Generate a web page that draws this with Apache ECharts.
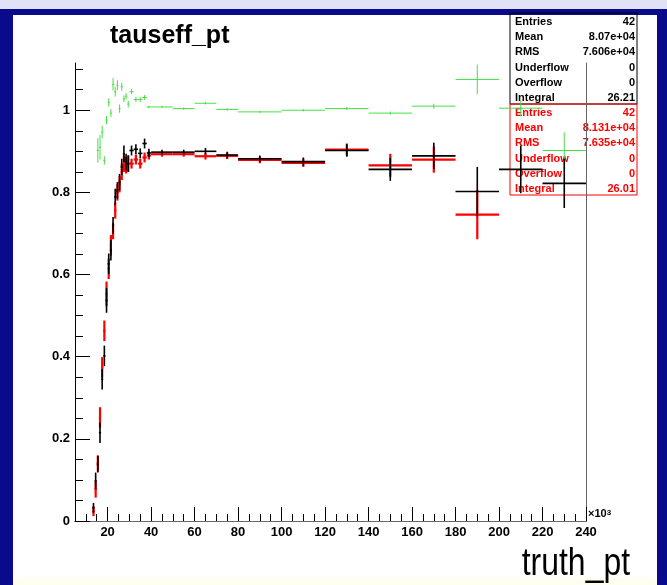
<!DOCTYPE html>
<html>
<head>
<meta charset="utf-8">
<script src="https://cdn.jsdelivr.net/npm/echarts@6/dist/echarts.min.js"></script>
<style>
html, body { margin: 0; padding: 0; background: #fff; }
#main { width: 667px; height: 585px; }
</style>
</head>
<body>
<div id="main"></div>
<script>
// bin edges (x in units of 10^3)
var binLow  = [13, 14, 15, 16, 17, 18, 19, 20, 21, 22, 23, 24, 25, 26, 27, 28, 29, 30, 32, 34, 36, 38, 40, 50, 60, 70, 80, 100, 120, 140, 160, 180, 200, 220];
var binHigh = [14, 15, 16, 17, 18, 19, 20, 21, 22, 23, 24, 25, 26, 27, 28, 29, 30, 32, 34, 36, 38, 40, 50, 60, 70, 80, 100, 120, 140, 160, 180, 200, 220, 240];

var blackVal = [0.032, 0.098, 0.138, 0.215, 0.345, 0.402, 0.537, 0.626, 0.659, 0.720, 0.789, 0.805, 0.825, 0.862, 0.894, 0.874, 0.870, 0.902, 0.905, 0.895, 0.919, 0.896, 0.898, 0.898, 0.900, 0.891, 0.882, 0.875, 0.902, 0.856, 0.889, 0.802, 0.856, 0.822];
var blackErr = [0.012, 0.020, 0.020, 0.025, 0.025, 0.025, 0.030, 0.025, 0.025, 0.020, 0.020, 0.020, 0.020, 0.020, 0.020, 0.020, 0.020, 0.012, 0.012, 0.012, 0.012, 0.010, 0.006, 0.006, 0.008, 0.008, 0.008, 0.010, 0.015, 0.028, 0.032, 0.060, 0.058, 0.060];

var redVal = [0.024, 0.077, 0.140, 0.252, 0.374, 0.463, 0.553, 0.614, 0.671, 0.706, 0.756, 0.800, 0.820, 0.850, 0.870, 0.866, 0.870, 0.870, 0.880, 0.870, 0.885, 0.890, 0.893, 0.893, 0.888, 0.889, 0.879, 0.872, 0.904, 0.866, 0.880, 0.746, null, null];
var redErr = [0.012, 0.020, 0.020, 0.025, 0.025, 0.025, 0.030, 0.025, 0.025, 0.020, 0.020, 0.020, 0.020, 0.020, 0.020, 0.020, 0.020, 0.012, 0.012, 0.012, 0.012, 0.010, 0.006, 0.006, 0.008, 0.008, 0.008, 0.010, 0.015, 0.028, 0.032, 0.060, null, null];

var greenVal = [null, null, 0.902, 0.910, 0.947, 0.878, 0.976, 1.019, 0.993, 1.063, 1.045, 1.061, 1.004, 1.057, 1.028, 1.034, 1.015, 1.045, 1.026, 1.026, 1.031, 1.008, 1.008, 1.004, 1.017, 1.002, 0.996, 1.000, 1.004, 0.993, 1.010, 1.075, 1.005, 0.902];
var greenErr = [null, null, 0.030, 0.030, 0.015, 0.010, 0.010, 0.010, 0.010, 0.015, 0.012, 0.012, 0.010, 0.010, 0.008, 0.008, 0.008, 0.006, 0.006, 0.006, 0.006, 0.003, 0.003, 0.003, 0.003, 0.003, 0.003, 0.003, 0.004, 0.004, 0.006, 0.036, 0.020, 0.044];

var xMajorTicks = [20, 40, 60, 80, 100, 120, 140, 160, 180, 200, 220, 240];
var xMinorTicks = [10, 15, 25, 30, 35, 45, 50, 55, 65, 70, 75, 85, 90, 95, 105, 110, 115, 125, 130, 135, 145, 150, 155, 165, 170, 175, 185, 190, 195, 205, 210, 215, 225, 230, 235];
var yMajorTicks = [0, 0.2, 0.4, 0.6, 0.8, 1];
var yMinorTicks = [0.05, 0.1, 0.15, 0.25, 0.3, 0.35, 0.45, 0.5, 0.55, 0.65, 0.7, 0.75, 0.85, 0.9, 0.95, 1.05, 1.1];

var statLabels = ["Entries", "Mean", "RMS", "Underflow", "Overflow", "Integral"];
var blackStats = ["42", "8.07e+04", "7.606e+04", "0", "0", "26.21"];
var redStats   = ["42", "8.131e+04", "7.635e+04", "0", "0", "26.01"];

var chart = echarts.init(document.getElementById("main"));

function buildData(vals, errs) {
  var out = [];
  for (var i = 0; i < vals.length; i++) {
    if (vals[i] == null) continue;
    out.push([binLow[i], binHigh[i], vals[i], errs[i]]);
  }
  return out;
}

function errorBars(color, width) {
  return function (params, api) {
    var lo = api.value(0), hi = api.value(1), v = api.value(2), e = api.value(3);
    var cx = (lo + hi) / 2;
    var p1 = api.coord([lo, v]);
    var p2 = api.coord([hi, v]);
    var t = api.coord([cx, v + e]);
    var b = api.coord([cx, v - e]);
    return {
      type: "group",
      children: [
        { type: "line", shape: { x1: p1[0], y1: p1[1], x2: p2[0], y2: p2[1] }, style: { stroke: color, lineWidth: width } },
        { type: "line", shape: { x1: t[0], y1: t[1], x2: b[0], y2: b[1] }, style: { stroke: color, lineWidth: width } }
      ]
    };
  };
}

function statBox(top, color, values) {
  var els = [{
    type: "rect", shape: { x: 510, y: top, width: 127, height: 91 },
    style: { fill: "rgba(255,255,255,0)", stroke: color, lineWidth: 1 }
  }];
  for (var i = 0; i < statLabels.length; i++) {
    var y = top + 9 + i * 15.2;
    els.push({ type: "text", x: 515, y: y, style: { text: statLabels[i], fill: color, font: "bold 11px 'Liberation Sans', Arial", textVerticalAlign: "middle" } });
    els.push({ type: "text", x: 635, y: y, style: { text: values[i], fill: color, font: "bold 11px 'Liberation Sans', Arial", textAlign: "right", textVerticalAlign: "middle" } });
  }
  return els;
}

var frame = [
  { type: "rect", shape: { x: 0, y: 0, width: 667, height: 11 }, style: { fill: "#e2e2f6" } },
  { type: "rect", shape: { x: 0, y: 9, width: 667, height: 6 }, style: { fill: "#0a0a8c" } },
  { type: "rect", shape: { x: 0, y: 9, width: 13, height: 576 }, style: { fill: "#0a0a8c" } },
  { type: "rect", shape: { x: 657, y: 9, width: 10, height: 576 }, style: { fill: "#0a0a8c" } },
  { type: "rect", shape: { x: 13, y: 578, width: 644, height: 7 }, style: { fill: "#fffff0" } },
  { type: "text", x: 110, y: 36, style: { text: "tauseff_pt", fill: "#000", font: "bold 25px 'Liberation Sans', Arial", textVerticalAlign: "middle" } },
  { type: "text", x: 630, y: 565, scaleX: 0.84, style: { text: "truth_pt", fill: "#000", font: "38px 'Liberation Sans', Arial", textAlign: "right", textVerticalAlign: "middle" } },
  { type: "text", x: 588, y: 514, style: { text: "×10{s|3}", rich: { s: { fontSize: 8, verticalAlign: "top", fontWeight: "bold" } }, fill: "#000", font: "bold 11px 'Liberation Sans', Arial", textVerticalAlign: "middle" } }
].concat(statBox(13, "#000", blackStats), statBox(104, "#ff0000", redStats));

var option = {
  animation: false,
  backgroundColor: "#fff",
  grid: { left: 75, right: 81, top: 63, bottom: 64 },
  xAxis: [
    {
      type: "value", min: 5, max: 240, position: "bottom",
      axisLine: { show: true, lineStyle: { color: "#000", width: 1 } },
      axisTick: { show: true, inside: true, length: 14, customValues: xMajorTicks, lineStyle: { color: "#000" } },
      axisLabel: { customValues: xMajorTicks, color: "#000", fontSize: 13, fontWeight: "bold", margin: 5, fontFamily: "'Liberation Sans', Arial" },
      splitLine: { show: false }
    },
    {
      type: "value", min: 5, max: 240, position: "bottom",
      axisLine: { show: false },
      axisTick: { show: true, inside: true, length: 7, customValues: xMinorTicks, lineStyle: { color: "#000" } },
      axisLabel: { show: false },
      splitLine: { show: false }
    },
    {
      type: "value", min: 5, max: 240, position: "top",
      axisLine: { show: true, lineStyle: { color: "#666", width: 1 } },
      axisTick: { show: false }, axisLabel: { show: false }, splitLine: { show: false }
    }
  ],
  yAxis: [
    {
      type: "value", min: 0, max: 1.115, position: "left",
      axisLine: { show: true, lineStyle: { color: "#000", width: 1 } },
      axisTick: { show: true, inside: true, length: 15, customValues: yMajorTicks, lineStyle: { color: "#000" } },
      axisLabel: { customValues: yMajorTicks, color: "#000", fontSize: 13, fontWeight: "bold", margin: 5, fontFamily: "'Liberation Sans', Arial",
        formatter: function (v) { return String(Math.round(v * 10) / 10); } },
      splitLine: { show: false }
    },
    {
      type: "value", min: 0, max: 1.115, position: "left",
      axisLine: { show: false },
      axisTick: { show: true, inside: true, length: 8, customValues: yMinorTicks, lineStyle: { color: "#000" } },
      axisLabel: { show: false },
      splitLine: { show: false }
    },
    {
      type: "value", min: 0, max: 1.115, position: "right",
      axisLine: { show: true, lineStyle: { color: "#666", width: 1 } },
      axisTick: { show: false }, axisLabel: { show: false }, splitLine: { show: false }
    }
  ],
  series: [
    { type: "custom", name: "green", renderItem: errorBars("#44e044", 1), data: buildData(greenVal, greenErr), encode: { x: [0, 1], y: [2] } },
    { type: "custom", name: "red", renderItem: errorBars("#ff0000", 2.2), data: buildData(redVal, redErr), encode: { x: [0, 1], y: [2] } },
    { type: "custom", name: "black", renderItem: errorBars("#000000", 1.6), data: buildData(blackVal, blackErr), encode: { x: [0, 1], y: [2] } }
  ],
  graphic: frame
};

chart.setOption(option);
</script>
</body>
</html>
